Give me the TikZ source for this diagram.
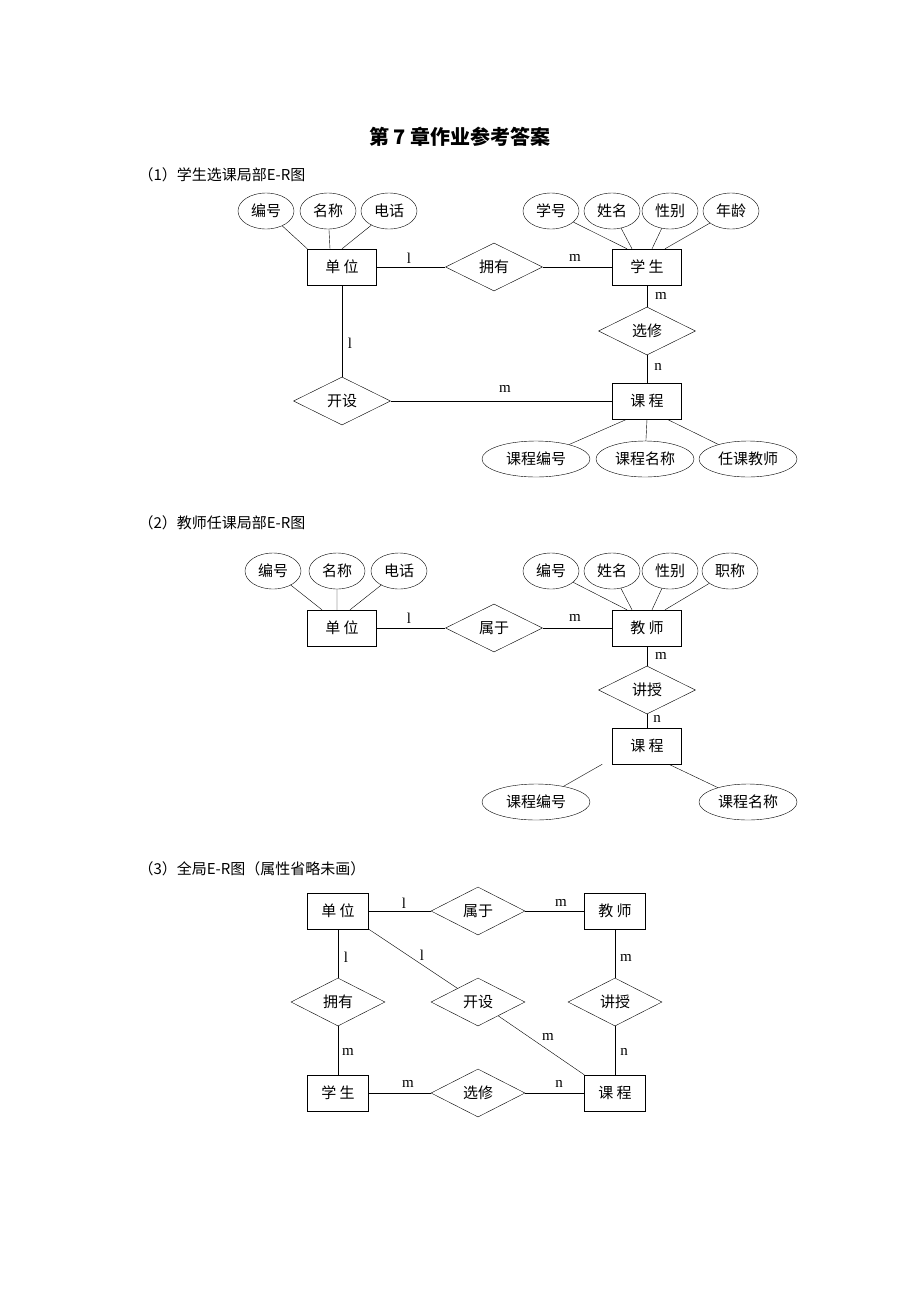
\documentclass[tikz,border=0pt]{standalone}
\usepackage{fontspec}
\setmainfont{Liberation Serif}
\newfontfamily\cjk{Noto Sans CJK SC}
\usetikzlibrary{shapes.geometric}
\begin{document}
\begin{tikzpicture}[x=1pt,y=-1pt,
 every node/.style={font=\cjk\fontsize{15}{18}\selectfont},
 ent/.style={draw,rectangle,minimum width=69,minimum height=36,inner sep=0},
 rel/.style={draw,diamond,minimum width=97,minimum height=48,inner sep=0,aspect=2},
 att/.style={draw,ellipse,minimum width=56,minimum height=36,inner sep=1},
 lab/.style={font=\fontsize{15}{18}\selectfont}]
\useasboundingbox (0,0) rectangle (920,1302);
\node[font=\cjk\bfseries\fontsize{20}{24}\selectfont] (title) at (460,137) {第 7 章作业参考答案};
% ---- (1)
\node[anchor=west] (h1) at (135,175) {（1）学生选课局部E-R图};
\node[ent] (u1) at (342,267) {单 位};
\node[ent] (s1) at (647,267) {学 生};
\node[ent] (c1) at (647,401) {课 程};
\node[rel] (r1) at (494,267) {拥有};
\node[rel] (x1) at (647,331) {选修};
\node[rel] (k1) at (342,401) {开设};
\node[att] (a1) at (266,211) {编号};
\node[att] (a2) at (328,211) {名称};
\node[att] (a3) at (389,211) {电话};
\node[att] (b1) at (551,211) {学号};
\node[att] (b2) at (612,211) {姓名};
\node[att] (b3) at (670,211) {性别};
\node[att] (b4) at (731,211) {年龄};
\node[att,minimum width=108] (d1) at (536,459) {课程编号};
\node[att,minimum width=98] (d2) at (645,459) {课程名称};
\node[att,minimum width=98] (d3) at (748,459) {任课教师};
\draw (u1) -- (r1) -- (s1) -- (x1) -- (c1) -- (k1) -- (u1);
\draw (a1) -- (u1.north west) (a2) -- ([xshift=-12]u1.north) (a3) -- ([xshift=0]u1.north);
\draw (b1) -- ([xshift=-20]s1.north) (b2) -- ([xshift=-15]s1.north) (b3) -- ([xshift=5]s1.north) (b4) -- ([xshift=18]s1.north);
\draw (d1) -- ([xshift=-20]c1.south) (d2) -- (c1.south) (d3) -- ([xshift=20]c1.south);
\node[lab] (l1) at (409,258) {l};
\node[lab] (l2) at (575,258) {m};
\node[lab] (l3) at (661,296) {m};
\node[lab] (l4) at (658,367) {n};
\node[lab] (l5) at (350,343) {l};
\node[lab] (l6) at (505,389) {m};
% ---- (2)
\node[anchor=west] (h2) at (135,523) {（2）教师任课局部E-R图};
\node[ent] (u2) at (342,628) {单 位};
\node[ent] (t2) at (647,628) {教 师};
\node[ent] (c2) at (647,746) {课 程};
\node[rel] (r2) at (494,628) {属于};
\node[rel] (j2) at (647,690) {讲授};
\node[att] (e1) at (273,571) {编号};
\node[att] (e2) at (337,571) {名称};
\node[att] (e3) at (399,571) {电话};
\node[att] (f1) at (551,571) {编号};
\node[att] (f2) at (612,571) {姓名};
\node[att] (f3) at (670,571) {性别};
\node[att] (f4) at (730,571) {职称};
\node[att,minimum width=108] (g1) at (536,802) {课程编号};
\node[att,minimum width=98] (g2) at (748,802) {课程名称};
\draw (u2) -- (r2) -- (t2) -- (j2) -- (c2);
\draw (e1) -- ([xshift=-20]u2.north) (e2) -- ([xshift=-5]u2.north) (e3) -- ([xshift=8]u2.north);
\draw (f1) -- ([xshift=-20]t2.north) (f2) -- ([xshift=-15]t2.north) (f3) -- ([xshift=5]t2.north) (f4) -- ([xshift=18]t2.north);
\draw (g1) -- ([xshift=-10]c2.south west) (g2) -- ([xshift=-13]c2.south east);
\node[lab] (m1) at (409,618) {l};
\node[lab] (m2) at (575,618) {m};
\node[lab] (m3) at (661,656) {m};
\node[lab] (m4) at (657,719) {n};
% ---- (3)
\node[anchor=west] (h3) at (135,869) {（3）全局E-R图（属性省略未画）};
\node[ent,minimum width=61] (u3) at (338,911) {单 位};
\node[ent,minimum width=61] (t3) at (615,911) {教 师};
\node[ent,minimum width=61] (s3) at (338,1093) {学 生};
\node[ent,minimum width=61] (c3) at (615,1093) {课 程};
\node[rel,minimum width=94] (p3) at (478,911) {属于};
\node[rel,minimum width=94] (y3) at (338,1002) {拥有};
\node[rel,minimum width=94] (k3) at (478,1002) {开设};
\node[rel,minimum width=94] (j3) at (615,1002) {讲授};
\node[rel,minimum width=94] (x3) at (478,1093) {选修};
\draw (u3) -- (p3) -- (t3) -- (j3) -- (c3) -- (x3) -- (s3) -- (y3) -- (u3);
\draw (u3.south east) -- (k3) -- (c3.north west);
\node[lab] (n1) at (404,903) {l};
\node[lab] (n2) at (561,903) {m};
\node[lab] (n3) at (346,957) {l};
\node[lab] (n4) at (348,1052) {m};
\node[lab] (n5) at (422,955) {l};
\node[lab] (n6) at (548,1037) {m};
\node[lab] (n7) at (626,958) {m};
\node[lab] (n8) at (624,1052) {n};
\node[lab] (n9) at (408,1084) {m};
\node[lab] (n10) at (559,1084) {n};
\end{tikzpicture}
\end{document}
